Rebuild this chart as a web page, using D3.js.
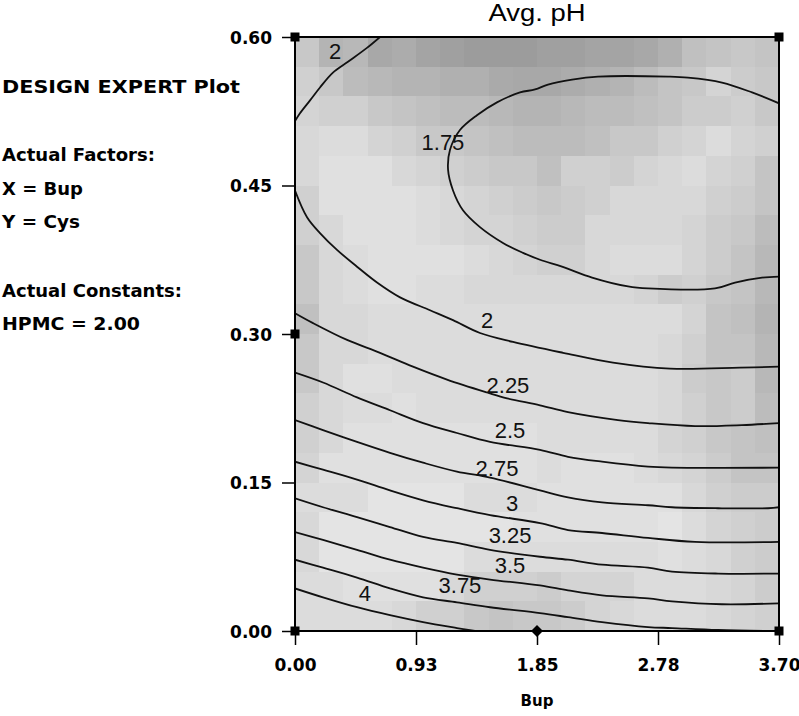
<!DOCTYPE html>
<html>
<head>
<meta charset="utf-8">
<script src="https://cdn.jsdelivr.net/npm/d3@7/dist/d3.min.js"></script>
<style>
  html, body { margin: 0; padding: 0; background: #ffffff; }
  svg { display: block; }
</style>
</head>
<body>
<svg id="chart" width="799" height="716"></svg>
<script>
// ---------------- DATA ----------------
const title = "Avg. pH";
const xAxisTitle = "Bup";
const xDomain = [0, 3.7];
const yDomain = [0, 0.6];
const xTickValues = [0, 0.925, 1.85, 2.775, 3.7];
const xTickLabels = ["0.00", "0.93", "1.85", "2.78", "3.70"];
const yTickValues = [0, 0.15, 0.30, 0.45, 0.60];
const yTickLabels = ["0.00", "0.15", "0.30", "0.45", "0.60"];

const annotationLines = ["DESIGN EXPERT Plot", "Actual Factors:", "X = Bup", "Y = Cys", "Actual Constants:", "HPMC = 2.00"];

// shaded response surface: 20 x 20 grey levels, top row first
const surfaceGrey = [
  [0xc8,0xb4,0xb8,0xa8,0xac,0xa4,0xa0,0x9c,0x9c,0x9c,0xa0,0xa0,0xa4,0xa4,0xa8,0xb0,0xc0,0xc4,0xc8,0xc4],
  [0xd0,0xc8,0xbc,0xb8,0xb4,0xb4,0xb0,0xb0,0xaa,0xa8,0xa8,0xac,0xb0,0xb4,0xbc,0xc4,0xc8,0xd4,0xcc,0xc8],
  [0xd4,0xd0,0xd0,0xc8,0xc4,0xc0,0xbc,0xbc,0xb8,0xb4,0xb4,0xb8,0xbc,0xbc,0xc0,0xc4,0xcc,0xcc,0xd0,0xc8],
  [0xd8,0xdc,0xdc,0xd4,0xd0,0xc8,0xc8,0xc4,0xc0,0xbc,0xbc,0xbc,0xc0,0xc8,0xc8,0xd0,0xd4,0xdc,0xd4,0xd0],
  [0xd8,0xe0,0xe0,0xe0,0xd8,0xd4,0xd0,0xcc,0xc8,0xc8,0xc0,0xd0,0xd0,0xcc,0xd4,0xd8,0xdc,0xd4,0xd0,0xc4],
  [0xd0,0xe0,0xe0,0xe0,0xe0,0xdc,0xd8,0xd4,0xd0,0xcc,0xc8,0xcc,0xd0,0xd8,0xd8,0xd8,0xd8,0xd0,0xcc,0xc4],
  [0xd0,0xd8,0xe0,0xe0,0xe0,0xdc,0xd8,0xd4,0xd4,0xd0,0xcc,0xcc,0xd8,0xd8,0xd8,0xd8,0xd4,0xcc,0xc8,0xbc],
  [0xc8,0xd8,0xdc,0xe0,0xe0,0xe0,0xe0,0xdc,0xd8,0xd4,0xd0,0xd0,0xd8,0xdc,0xdc,0xdc,0xd4,0xcc,0xc4,0xb8],
  [0xc8,0xd8,0xdc,0xe0,0xe0,0xdc,0xdc,0xd8,0xd8,0xd8,0xd8,0xd8,0xd8,0xd8,0xd4,0xcc,0xd0,0xc8,0xc4,0xb8],
  [0xc0,0xd8,0xd8,0xdc,0xdc,0xdc,0xdc,0xdc,0xdc,0xdc,0xdc,0xdc,0xdc,0xdc,0xdc,0xdc,0xd4,0xc4,0xc0,0xb4],
  [0xc8,0xd8,0xd8,0xdc,0xdc,0xdc,0xdc,0xdc,0xdc,0xdc,0xdc,0xdc,0xdc,0xdc,0xdc,0xd8,0xd0,0xc4,0xc4,0xb8],
  [0xc8,0xd8,0xe0,0xe0,0xdc,0xdc,0xdc,0xdc,0xdc,0xdc,0xdc,0xdc,0xdc,0xdc,0xdc,0xd8,0xcc,0xc8,0xcc,0xb8],
  [0xd0,0xd8,0xdc,0xdc,0xe0,0xdc,0xdc,0xdc,0xdc,0xdc,0xdc,0xdc,0xdc,0xdc,0xdc,0xd8,0xd0,0xc8,0xcc,0xbc],
  [0xd0,0xd8,0xe0,0xe0,0xe0,0xe0,0xe0,0xe0,0xe0,0xe0,0xdc,0xdc,0xdc,0xdc,0xdc,0xd4,0xd0,0xc8,0xc4,0xc0],
  [0xd4,0xe0,0xe0,0xe0,0xe0,0xe0,0xe0,0xe0,0xe0,0xe0,0xdc,0xe0,0xe0,0xe0,0xdc,0xd8,0xd4,0xcc,0xc4,0xc4],
  [0xdc,0xdc,0xdc,0xe4,0xe4,0xe4,0xe4,0xdc,0xdc,0xdc,0xe0,0xe0,0xe0,0xe0,0xe0,0xe0,0xd8,0xd0,0xcc,0xcc],
  [0xd8,0xe4,0xe4,0xe4,0xe4,0xe4,0xe4,0xe4,0xe4,0xe0,0xe0,0xe0,0xe0,0xe0,0xe0,0xe4,0xdc,0xd4,0xd0,0xcc],
  [0xd8,0xe4,0xe4,0xe4,0xe4,0xe4,0xe4,0xdc,0xdc,0xdc,0xdc,0xdc,0xdc,0xdc,0xdc,0xe0,0xdc,0xd8,0xd0,0xcc],
  [0xdc,0xdc,0xe0,0xe0,0xe0,0xe0,0xd8,0xd0,0xd0,0xd0,0xcc,0xd4,0xd4,0xd4,0xdc,0xdc,0xdc,0xd8,0xd4,0xcc],
  [0xdc,0xdc,0xdc,0xdc,0xd8,0xd0,0xd0,0xc8,0xc4,0xc8,0xc8,0xcc,0xd4,0xd8,0xdc,0xdc,0xdc,0xd8,0xd4,0xd0]
];

// contour lines, [Bup, Cys]
const contour2Upper = [[0.650,0.600],[0.550,0.589],[0.405,0.575],[0.290,0.564],[0.191,0.549],[0.115,0.536],[0.038,0.523],[0,0.515]];
const contour175 = [[3.70,0.533],[3.494,0.544],[3.264,0.554],[3.004,0.559],[2.852,0.560],[2.316,0.560],[2.118,0.557],[1.934,0.552],[1.835,0.547],[1.720,0.544],[1.544,0.534],[1.391,0.521],[1.261,0.506],[1.185,0.486],[1.170,0.466],[1.208,0.445],[1.284,0.425],[1.414,0.408],[1.590,0.392],[1.743,0.382],[1.873,0.375],[2.041,0.368],[2.271,0.357],[2.546,0.348],[2.699,0.346],[3.211,0.346],[3.364,0.352],[3.570,0.357],[3.70,0.358]];
const contour2Lower = [[0,0.445],[0.092,0.418],[0.191,0.402],[0.321,0.385],[0.474,0.368],[0.627,0.352],[0.803,0.337],[1.032,0.324],[1.208,0.314],[1.414,0.301],[1.667,0.292],[2.049,0.281],[2.431,0.271],[2.867,0.265],[3.402,0.266],[3.70,0.267]];
const contour225 = [[0,0.321],[0.138,0.311],[0.398,0.294],[0.650,0.281],[0.902,0.267],[1.162,0.254],[1.468,0.241],[1.621,0.235],[1.873,0.228],[2.087,0.221],[2.469,0.213],[2.699,0.210],[3.058,0.207],[3.417,0.208],[3.70,0.210]];
const contour250 = [[0,0.261],[0.214,0.251],[0.474,0.236],[0.726,0.223],[0.979,0.210],[1.238,0.200],[1.491,0.191],[1.873,0.183],[2.087,0.176],[2.347,0.171],[2.699,0.166],[2.882,0.165],[3.70,0.165]];
const contour275 = [[0,0.213],[0.214,0.203],[0.474,0.191],[0.726,0.180],[0.979,0.170],[1.238,0.161],[1.491,0.155],[1.873,0.142],[2.087,0.135],[2.347,0.130],[2.699,0.127],[2.882,0.125],[3.234,0.124],[3.616,0.124],[3.70,0.125]];
const contour300 = [[0,0.171],[0.214,0.163],[0.474,0.153],[0.726,0.142],[0.979,0.132],[1.238,0.124],[1.491,0.117],[1.873,0.109],[2.087,0.102],[2.347,0.099],[2.699,0.094],[3.058,0.090],[3.70,0.090]];
const contour325 = [[0,0.134],[0.214,0.125],[0.474,0.115],[0.726,0.105],[0.979,0.095],[1.238,0.089],[1.491,0.082],[1.873,0.075],[2.087,0.072],[2.347,0.067],[2.699,0.064],[2.882,0.060],[3.234,0.058],[3.70,0.058]];
const contour350 = [[0,0.100],[0.214,0.092],[0.474,0.082],[0.726,0.072],[0.979,0.064],[1.238,0.057],[1.491,0.052],[1.873,0.046],[2.087,0.041],[2.347,0.036],[2.699,0.033],[2.882,0.030],[3.264,0.027],[3.70,0.028]];
const contour375 = [[0,0.072],[0.214,0.064],[0.474,0.054],[0.726,0.043],[0.979,0.034],[1.238,0.029],[1.491,0.024],[1.873,0.018],[2.087,0.014],[2.347,0.009],[2.699,0.004],[2.882,0.003],[3.234,0.001],[3.70,0.000]];
const contour400 = [[0,0.043],[0.214,0.034],[0.474,0.024],[0.726,0.016],[0.979,0.009],[1.238,0.003],[1.376,0.000]];

const contourLabelText = ["2", "1.75", "2", "2.25", "2.5", "2.75", "3", "3.25", "3.5", "3.75", "4"];
const contourLabelX = [0.306, 1.131, 1.468, 1.628, 1.644, 1.544, 1.659, 1.644, 1.644, 1.261, 0.535];
const contourLabelY = [0.586, 0.494, 0.314, 0.248, 0.203, 0.165, 0.129, 0.097, 0.067, 0.046, 0.038];

// design points
const squarePoints = [[0, 0], [0, 0.6], [3.7, 0.6], [3.7, 0], [0, 0.3]];
const diamondPoints = [[1.85, 0]];

// ---------------- DRAWING ----------------
const svg = d3.select("#chart");
const plot = { left: 295, right: 779, top: 37, bottom: 631 };

const x = d3.scaleLinear().domain(xDomain).range([plot.left, plot.right]);
const y = d3.scaleLinear().domain(yDomain).range([plot.bottom, plot.top]);

// background cells
const nCols = surfaceGrey[0].length, nRows = surfaceGrey.length;
const cellW = (xDomain[1] - xDomain[0]) / nCols;
const cellH = (yDomain[1] - yDomain[0]) / nRows;
const cells = [];
surfaceGrey.forEach((row, j) => row.forEach((g, i) => cells.push({ i, j, g })));
svg.append("g").selectAll("rect").data(cells).join("rect")
  .attr("x", d => x(xDomain[0] + d.i * cellW))
  .attr("y", d => y(yDomain[1] - d.j * cellH))
  .attr("width", d => x(xDomain[0] + (d.i + 1) * cellW) - x(xDomain[0] + d.i * cellW) + 0.5)
  .attr("height", d => y(yDomain[1] - (d.j + 1) * cellH) - y(yDomain[1] - d.j * cellH) + 0.5)
  .attr("fill", d => d3.rgb(d.g, d.g, d.g).toString())
  .attr("shape-rendering", "crispEdges");

// contour lines
const contours = [contour2Upper, contour175, contour2Lower, contour225, contour250, contour275, contour300, contour325, contour350, contour375, contour400];
const line = d3.line().x(d => x(d[0])).y(d => y(d[1])).curve(d3.curveCatmullRom.alpha(0.5));
svg.append("clipPath").attr("id", "plotclip").append("rect")
  .attr("x", plot.left).attr("y", plot.top).attr("width", plot.right - plot.left).attr("height", plot.bottom - plot.top);
svg.append("g").attr("clip-path", "url(#plotclip)")
  .selectAll("path").data(contours).join("path")
  .attr("d", line)
  .attr("fill", "none")
  .attr("stroke", "#111")
  .attr("stroke-width", 1.8);

// contour labels
svg.append("g").selectAll("text").data(contourLabelText).join("text")
  .attr("x", (d, i) => x(contourLabelX[i]))
  .attr("y", (d, i) => y(contourLabelY[i]))
  .attr("dy", "0.36em")
  .attr("text-anchor", "middle")
  .attr("font-family", "'Liberation Sans', Arial, sans-serif")
  .attr("font-size", 22)
  .attr("fill", "#111")
  .text(d => d);

// plot frame
svg.append("rect")
  .attr("x", plot.left).attr("y", plot.top)
  .attr("width", plot.right - plot.left).attr("height", plot.bottom - plot.top)
  .attr("fill", "none").attr("stroke", "#000").attr("stroke-width", 2);

// axes
const tickFont = "'DejaVu Sans', Verdana, sans-serif";
const yAxis = d3.axisLeft(y).tickValues(yTickValues).tickFormat((d, i) => yTickLabels[i]).tickSize(13).tickPadding(10);
const gy = svg.append("g").attr("transform", `translate(${plot.left},0)`).call(yAxis);
gy.select(".domain").remove();
gy.selectAll(".tick line").attr("stroke", "#000").attr("stroke-width", 1.5);
gy.selectAll(".tick text").attr("font-family", tickFont).attr("font-weight", "bold")
  .attr("font-size", 17).attr("fill", "#000").attr("dy", "0.36em");

const xAxis = d3.axisBottom(x).tickValues(xTickValues).tickFormat((d, i) => xTickLabels[i]).tickSize(14).tickPadding(13);
const gx = svg.append("g").attr("transform", `translate(0,${plot.bottom})`).call(xAxis);
gx.select(".domain").remove();
gx.selectAll(".tick line").attr("stroke", "#000").attr("stroke-width", 1.5);
gx.selectAll(".tick text").attr("font-family", tickFont).attr("font-weight", "bold")
  .attr("font-size", 17).attr("fill", "#000").attr("dy", "0.75em");

// design points
svg.append("g").selectAll("rect").data(squarePoints).join("rect")
  .attr("x", d => x(d[0]) - 4.5).attr("y", d => y(d[1]) - 4.5)
  .attr("width", 9).attr("height", 9).attr("fill", "#000");
svg.append("g").selectAll("path").data(diamondPoints).join("path")
  .attr("transform", d => `translate(${x(d[0])},${y(d[1])})`)
  .attr("d", "M0,-6L6,0L0,6L-6,0Z").attr("fill", "#000");

// title
svg.append("text")
  .attr("x", (plot.left + plot.right) / 2).attr("y", 21)
  .attr("text-anchor", "middle")
  .attr("font-family", "'Liberation Sans', Arial, sans-serif")
  .attr("font-size", 23)
  .attr("textLength", 97).attr("lengthAdjust", "spacingAndGlyphs")
  .attr("fill", "#000")
  .text(title);

// x axis title
svg.append("text")
  .attr("x", x((xDomain[0] + xDomain[1]) / 2)).attr("y", 706)
  .attr("text-anchor", "middle")
  .attr("font-family", tickFont).attr("font-weight", "bold")
  .attr("font-size", 15).attr("fill", "#000")
  .text(xAxisTitle);

// left annotation block
const annoBaselines = [93, 161, 195, 228, 297, 330];
const annoWidths = [238, 153, 81, 78, 180, 138];
svg.append("g").selectAll("text").data(annotationLines).join("text")
  .attr("x", 2).attr("y", (d, i) => annoBaselines[i])
  .attr("font-family", tickFont).attr("font-weight", "bold")
  .attr("font-size", 17).attr("fill", "#000")
  .attr("textLength", (d, i) => annoWidths[i]).attr("lengthAdjust", "spacingAndGlyphs")
  .text(d => d);
</script>
</body>
</html>
